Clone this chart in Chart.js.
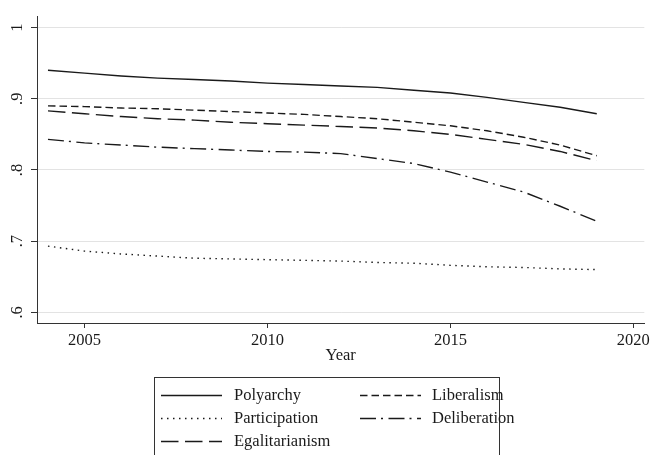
<!DOCTYPE html>
<html>
<head>
<meta charset="utf-8">
<script src="https://cdn.jsdelivr.net/npm/chart.js@4.4.1/dist/chart.umd.min.js"></script>
<style>
  html, body { margin: 0; padding: 0; background: #fff; }
  #wrap { width: 653px; height: 455px; }
</style>
</head>
<body>
<div id="wrap"><canvas id="c" width="653" height="455"></canvas></div>
<script>
// ---- data ----
const years = [2004, 2005, 2006, 2007, 2008, 2009, 2010, 2011, 2012, 2013, 2014, 2015, 2016, 2017, 2018, 2019];
const polyarchy      = [0.940, 0.936, 0.932, 0.929, 0.927, 0.925, 0.922, 0.920, 0.918, 0.916, 0.912, 0.908, 0.902, 0.895, 0.888, 0.879];
const liberalism     = [0.890, 0.889, 0.887, 0.886, 0.884, 0.882, 0.880, 0.878, 0.875, 0.872, 0.867, 0.862, 0.855, 0.846, 0.835, 0.820];
const participation  = [0.693, 0.686, 0.682, 0.679, 0.676, 0.675, 0.674, 0.673, 0.672, 0.670, 0.669, 0.666, 0.664, 0.663, 0.661, 0.660];
const deliberation   = [0.843, 0.838, 0.835, 0.832, 0.830, 0.828, 0.826, 0.825, 0.823, 0.816, 0.809, 0.797, 0.783, 0.769, 0.749, 0.728];
const egalitarianism = [0.883, 0.879, 0.875, 0.872, 0.870, 0.867, 0.865, 0.863, 0.861, 0.859, 0.855, 0.850, 0.843, 0.836, 0.826, 0.813];
const seriesNames = ['Polyarchy', 'Liberalism', 'Participation', 'Deliberation', 'Egalitarianism'];
const xTicks = [2005, 2010, 2015, 2020];
const yTicks = [0.6, 0.7, 0.8, 0.9, 1.0];
const yTickLabels = ['.6', '.7', '.8', '.9', '1'];
const xTitle = 'Year';

const FONT = "'Liberation Serif', 'Times New Roman', serif";
const INK = '#1a1a1a';

function pts(vals) { return years.map((y, i) => ({ x: y, y: vals[i] })); }
function ds(label, vals, dash) {
  return { label, data: pts(vals), borderColor: INK, borderWidth: 1.4, borderDash: dash,
           pointRadius: 0, fill: false, tension: 0 };
}

const datasets = [
  ds(seriesNames[0], polyarchy, []),
  ds(seriesNames[1], liberalism, [7.5, 4]),
  ds(seriesNames[2], participation, [1.5, 4.5]),
  ds(seriesNames[3], deliberation, [16, 5, 2, 5.5]),
  ds(seriesNames[4], egalitarianism, [17.5, 6.5])
];

// custom legend (Stata-style box, 2 columns)
const boxLegend = {
  id: 'boxLegend',
  afterDraw(chart) {
    const ctx = chart.ctx;
    ctx.save();
    ctx.strokeStyle = '#333';
    ctx.lineWidth = 1;
    ctx.strokeRect(154.5, 377.5, 345, 100);
    const cols = [{ l1: 161, l2: 222, tx: 234 }, { l1: 360, l2: 421, tx: 432 }];
    const rows = [395, 418, 441];
    ctx.font = "16.5px " + FONT;
    ctx.textBaseline = 'middle';
    ctx.fillStyle = INK;
    chart.data.datasets.forEach((d, i) => {
      const c = cols[i % 2], r = rows[Math.floor(i / 2)];
      ctx.beginPath();
      ctx.setLineDash(d.borderDash || []);
      ctx.lineWidth = d.borderWidth;
      ctx.strokeStyle = d.borderColor;
      ctx.moveTo(c.l1, r + 0.5);
      ctx.lineTo(c.l2, r + 0.5);
      ctx.stroke();
      ctx.setLineDash([]);
      ctx.fillText(d.label, c.tx, r + 1);
    });
    ctx.restore();
  }
};

new Chart(document.getElementById('c'), {
  type: 'line',
  data: { datasets },
  plugins: [boxLegend],
  options: {
    responsive: false,
    animation: false,
    devicePixelRatio: 1,
    layout: { padding: { left: 0, right: 8, top: 8, bottom: 82 } },
    plugins: { legend: { display: false }, tooltip: { enabled: false } },
    scales: {
      x: {
        type: 'linear',
        min: 2003.7, max: 2020.3,
        afterBuildTicks: s => { s.ticks = xTicks.map(v => ({ value: v })); },
        afterFit: s => { s.height = 50; },
        border: { display: true, color: '#333', width: 1 },
        grid: { drawOnChartArea: false, drawTicks: true, tickLength: 5, tickColor: '#333' },
        ticks: { font: { family: FONT, size: 16.5 }, color: INK, padding: 3, maxRotation: 0,
                 callback: v => String(v) },
        title: { display: true, text: xTitle, font: { family: FONT, size: 16.5 }, color: INK,
                 padding: { top: 0, bottom: 7 } }
      },
      y: {
        type: 'linear',
        min: 0.585, max: 1.015,
        afterBuildTicks: s => { s.ticks = yTicks.map(v => ({ value: v })); },
        afterFit: s => { s.width = 37; },
        border: { display: true, color: '#333', width: 1 },
        grid: { color: '#e3e3e3', lineWidth: 1, drawTicks: true, tickLength: 6, tickColor: '#333' },
        ticks: { font: { family: FONT, size: 16.5 }, color: INK, padding: 7, minRotation: 90, maxRotation: 90,
                 crossAlign: 'center',
                 callback: (v) => { const i = yTicks.findIndex(t => Math.abs(t - v) < 1e-9); return i >= 0 ? yTickLabels[i] : ''; } }
      }
    }
  }
});
</script>
</body>
</html>
